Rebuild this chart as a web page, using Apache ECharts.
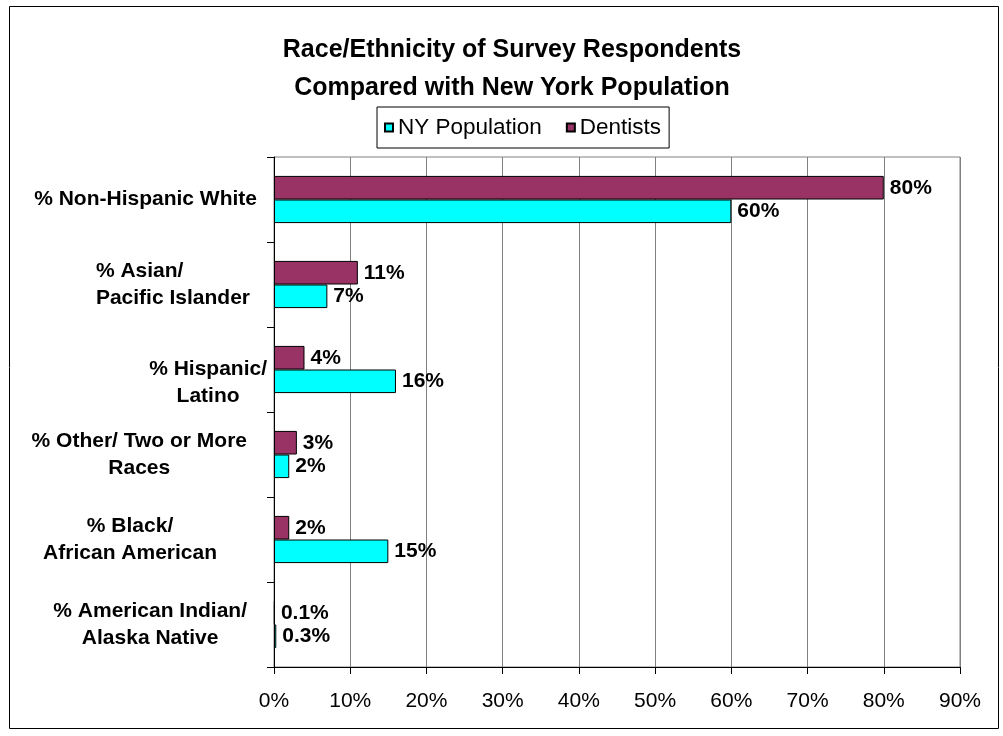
<!DOCTYPE html>
<html>
<head>
<meta charset="utf-8">
<script src="https://cdn.jsdelivr.net/npm/echarts@6/dist/echarts.min.js"></script>
<style>html,body{margin:0;padding:0;background:#fff;}#chart{width:1003px;height:736px;}</style>
</head>
<body>
<div id="chart"></div>
<script>
// ---- data ----
const categories = [
  '% Non-Hispanic White',
  '% Asian/\nPacific Islander',
  '% Hispanic/\nLatino',
  '% Other/ Two or More\nRaces',
  '% Black/\nAfrican American',
  '% American Indian/\nAlaska Native'
];
const nyPopulation = [60, 7, 16, 2, 15, 0.3];
const dentists = [80, 11, 4, 3, 2, 0.1];
const xTicks = [0, 10, 20, 30, 40, 50, 60, 70, 80, 90];
const seriesNames = ['NY Population', 'Dentists'];

// ---- styles ----
const FONT = '"Liberation Sans", Arial, sans-serif';
const labelStyles = [
  { align: 'center', pr: 13 },
  { align: 'left', pr: 20 },
  { align: 'center', pr: 3, lead: true },
  { align: 'center', pr: 23 },
  { align: 'center', pr: 53 },
  { align: 'center', pr: 23 }
];
const rich = {};
labelStyles.forEach(function (s, i) {
  rich['c' + i] = {
    fontSize: 21, fontWeight: 'bold', fontFamily: FONT, color: '#000',
    lineHeight: 27, align: s.align, padding: [0, s.pr, 0, 0]
  };
});

const chart = echarts.init(document.getElementById('chart'), null, { renderer: 'canvas' });
const barLabel = {
  show: true, position: 'right', distance: 6,
  formatter: function (p) { return p.value + '%'; },
  fontSize: 21, fontWeight: 'bold', color: '#000', fontFamily: FONT
};
chart.setOption({
  animation: false,
  backgroundColor: '#fff',
  title: {
    text: 'Race/Ethnicity of Survey Respondents\nCompared with New York Population',
    left: 512, top: 31, textAlign: 'center', padding: 0,
    textStyle: { fontSize: 25, fontWeight: 'bold', fontFamily: FONT, color: '#000', lineHeight: 38 }
  },
  legend: {
    data: seriesNames,
    left: 377, top: 107,
    orient: 'horizontal',
    icon: 'rect', itemWidth: 8, itemHeight: 8, itemGap: 24,
    padding: [9, 8, 9, 7],
    borderColor: '#000', borderWidth: 1,
    textStyle: { fontSize: 22.5, fontFamily: FONT, color: '#000', lineHeight: 23 }
  },
  grid: {
    left: 274, right: 43, top: 157, bottom: 69,
    show: true, borderColor: '#808080', borderWidth: 1,
    containLabel: false, outerBoundsMode: 'none'
  },
  xAxis: {
    type: 'value', min: xTicks[0], max: xTicks[xTicks.length - 1], interval: 10,
    axisLine: { show: true, lineStyle: { color: '#000', width: 1 } },
    axisTick: { show: true, length: 7, lineStyle: { color: '#000' } },
    splitLine: { show: true, lineStyle: { color: '#808080', width: 1 } },
    axisLabel: {
      formatter: '{value}%', fontSize: 21, fontFamily: FONT, color: '#000', margin: 24
    }
  },
  yAxis: {
    type: 'category', data: categories, inverse: true,
    axisLine: { show: true, lineStyle: { color: '#000', width: 1 } },
    axisTick: { show: true, length: 7, lineStyle: { color: '#000' } },
    splitLine: { show: false },
    axisLabel: {
      interval: 0, margin: 4, align: 'right',
      formatter: function (value, index) {
        const s = 'c' + index;
        const lines = value.split('\n');
        if (labelStyles[index] && labelStyles[index].lead) lines.unshift(' ');
        return lines.map(function (l) { return '{' + s + '|' + l + '}'; }).join('\n');
      },
      rich: rich
    }
  },
  series: [
    {
      name: seriesNames[1], type: 'bar', data: dentists,
      barCategoryGap: '44.5%', barGap: '0%',
      itemStyle: { color: '#993366', borderColor: '#000', borderWidth: 1 },
      label: barLabel
    },
    {
      name: seriesNames[0], type: 'bar', data: nyPopulation,
      barCategoryGap: '44.5%', barGap: '0%',
      itemStyle: { color: '#00FFFF', borderColor: '#000', borderWidth: 1 },
      label: barLabel
    }
  ],
  graphic: [{
    type: 'rect', silent: true, z: -1,
    shape: { x: 9.5, y: 6.5, width: 989, height: 722 },
    style: { fill: 'none', stroke: '#000', lineWidth: 1 }
  }]
});
</script>
</body>
</html>
